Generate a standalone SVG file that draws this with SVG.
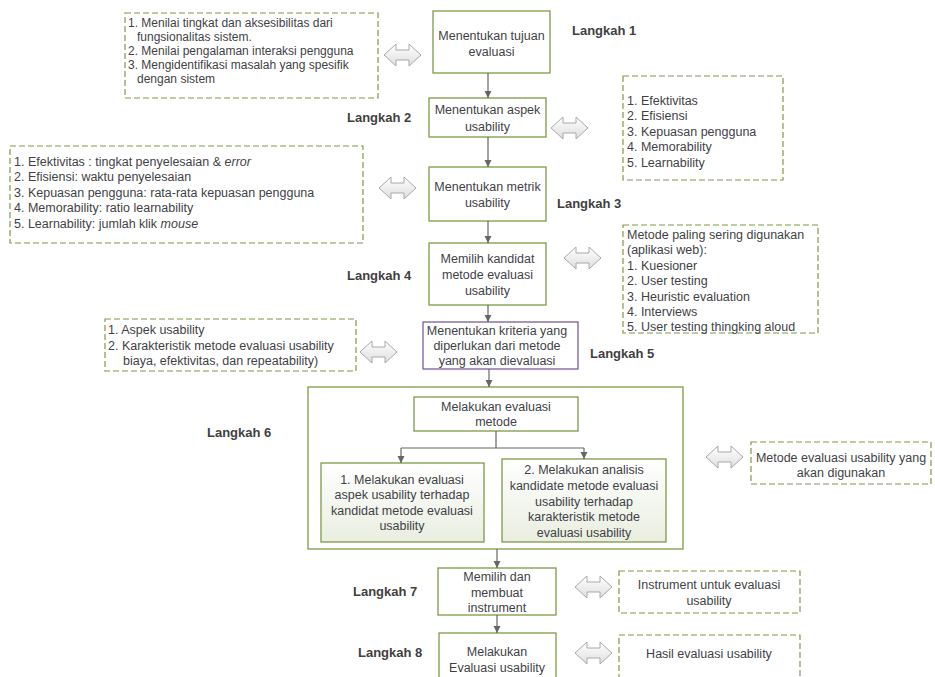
<svg xmlns="http://www.w3.org/2000/svg" width="935" height="677" viewBox="0 0 935 677">
<defs>
<style>
.box{fill:#ffffff;stroke:#7f9a48;stroke-width:1.3}
.pbox{fill:#ffffff;stroke:#7a5e9a;stroke-width:1.3}
.gbox{fill:url(#gg);stroke:#7f9a48;stroke-width:1.3}
.dbox{fill:#ffffff;stroke:#7f9a48;stroke-width:1.2;stroke-dasharray:6 3}
.t{font-family:"Liberation Sans",Arial,sans-serif;font-size:12.5px;fill:#3f3f46}
.c{text-anchor:middle}
.s{font-family:"Liberation Sans",Arial,sans-serif;font-size:12px;fill:#3f3f46}
.lk{font-family:"Liberation Sans",Arial,sans-serif;font-size:13px;font-weight:bold;fill:#3f3f3f}
.ln{fill:none;stroke:#666666;stroke-width:1.2}
.da{fill:url(#dg);stroke:#a8a8a8;stroke-width:1}
</style>
<linearGradient id="gg" x1="0" y1="0" x2="0" y2="1">
<stop offset="0" stop-color="#ffffff"/>
<stop offset="1" stop-color="#e9eee0"/>
</linearGradient>
<linearGradient id="dg" x1="0" y1="0" x2="0" y2="1">
<stop offset="0" stop-color="#ffffff"/>
<stop offset="1" stop-color="#dedede"/>
</linearGradient>
<marker id="ah" markerWidth="8" markerHeight="8" refX="7" refY="4" orient="auto" markerUnits="userSpaceOnUse">
<path d="M0,0.5 L7,4 L0,7.5 Z" fill="#666666"/>
</marker>
<path id="dar" class="da" d="M0,0 L12,-11 L12,-5 L25,-5 L25,-11 L37,0 L25,11 L25,5 L12,5 L12,11 Z"/>
</defs>

<g id="labels">
<text class="lk" x="572" y="35">Langkah 1</text>
<text class="lk" x="347" y="122">Langkah 2</text>
<text class="lk" x="557" y="208">Langkah 3</text>
<text class="lk" x="347" y="280">Langkah 4</text>
<text class="lk" x="590" y="358">Langkah 5</text>
<text class="lk" x="207" y="437">Langkah 6</text>
<text class="lk" x="353" y="596">Langkah 7</text>
<text class="lk" x="358" y="657">Langkah 8</text>
</g>

<g id="step1">
<rect class="box" x="433" y="11" width="117" height="62"/>
<text class="t c" x="491.5" y="39.5">Menentukan tujuan</text>
<text class="t c" x="491.5" y="55.5">evaluasi</text>
</g>
<g id="note1">
<rect class="dbox" x="125" y="13" width="253" height="85"/>
<text class="s" x="128" y="27">1. Menilai tingkat dan aksesibilitas dari</text>
<text class="s" x="137" y="41">fungsionalitas sistem.</text>
<text class="s" x="128" y="55">2. Menilai pengalaman interaksi pengguna</text>
<text class="s" x="128" y="69">3. Mengidentifikasi masalah yang spesifik</text>
<text class="s" x="137" y="83">dengan sistem</text>
</g>

<g id="step2">
<rect class="box" x="429" y="98" width="117" height="39"/>
<text class="t c" x="487.5" y="113.5">Menentukan aspek</text>
<text class="t c" x="487.5" y="130.5">usability</text>
</g>
<g id="note2">
<rect class="dbox" x="623" y="76" width="160" height="104"/>
<text class="t" x="627" y="104.5">1. Efektivitas</text>
<text class="t" x="627" y="120">2. Efisiensi</text>
<text class="t" x="627" y="135.5">3. Kepuasan pengguna</text>
<text class="t" x="627" y="151">4. Memorability</text>
<text class="t" x="627" y="166.5">5. Learnability</text>
</g>

<g id="step3">
<rect class="box" x="429" y="167" width="117" height="54"/>
<text class="t c" x="487.5" y="190.5">Menentukan metrik</text>
<text class="t c" x="487.5" y="206.5">usability</text>
</g>
<g id="note3">
<rect class="dbox" x="10" y="146" width="353" height="97"/>
<text class="t" x="14" y="165.5">1. Efektivitas : tingkat penyelesaian &amp; <tspan font-style="italic">error</tspan></text>
<text class="t" x="14" y="181">2. Efisiensi: waktu penyelesaian</text>
<text class="t" x="14" y="196.5">3. Kepuasan pengguna: rata-rata kepuasan pengguna</text>
<text class="t" x="14" y="212">4. Memorability: ratio learnability</text>
<text class="t" x="14" y="227.5">5. Learnability: jumlah klik <tspan font-style="italic">mouse</tspan></text>
</g>

<g id="step4">
<rect class="box" x="429" y="243" width="117" height="62"/>
<text class="t c" x="487.5" y="262.5">Memilih kandidat</text>
<text class="t c" x="487.5" y="278.5">metode evaluasi</text>
<text class="t c" x="487.5" y="294.5">usability</text>
</g>
<g id="note4">
<rect class="dbox" x="623" y="225" width="195" height="108"/>
<text class="t" x="627" y="238.5">Metode paling sering digunakan</text>
<text class="t" x="627" y="254">(aplikasi web):</text>
<text class="t" x="627" y="269.5">1. Kuesioner</text>
<text class="t" x="627" y="285">2. User testing</text>
<text class="t" x="627" y="300.5">3. Heuristic evaluation</text>
<text class="t" x="627" y="316">4. Interviews</text>
<text class="t" x="627" y="331">5. User testing thingking aloud</text>
</g>

<g id="step5">
<rect class="pbox" x="423" y="322" width="155" height="47"/>
<text class="t c" x="497" y="334.5">Menentukan kriteria yang</text>
<text class="t c" x="497" y="350">diperlukan  dari metode</text>
<text class="t c" x="497" y="365">yang akan dievaluasi</text>
</g>
<g id="note5">
<rect class="dbox" x="105" y="319" width="251" height="52"/>
<text class="t" x="108" y="334">1. Aspek usability</text>
<text class="t" x="108" y="349.5">2. Karakteristik metode evaluasi usability</text>
<text class="t" x="123" y="364.5">biaya, efektivitas, dan repeatability)</text>
</g>

<g id="step6">
<rect class="box" x="308" y="387" width="375" height="162"/>
<g id="step6a">
<rect class="box" x="414" y="397" width="164" height="34"/>
<text class="t c" x="496" y="410.5">Melakukan evaluasi</text>
<text class="t c" x="496" y="426">metode</text>
</g>
<g id="step6b">
<rect class="gbox" x="321" y="463" width="163" height="79"/>
<text class="t c" x="402" y="483.5">1. Melakukan evaluasi</text>
<text class="t c" x="402" y="499">aspek usability terhadap</text>
<text class="t c" x="402" y="514.5">kandidat metode evaluasi</text>
<text class="t c" x="402" y="530">usability</text>
</g>
<g id="step6c">
<rect class="gbox" x="502" y="459" width="164" height="83"/>
<text class="t c" x="584" y="473.5">2. Melakukan analisis</text>
<text class="t c" x="584" y="489.5">kandidate metode evaluasi</text>
<text class="t c" x="584" y="505.5">usability terhadap</text>
<text class="t c" x="584" y="521">karakteristik metode</text>
<text class="t c" x="584" y="537">evaluasi usability</text>
</g>
</g>
<g id="note6">
<rect class="dbox" x="751" y="442" width="180" height="42"/>
<text class="t c" x="841" y="461.5">Metode evaluasi usability yang</text>
<text class="t c" x="841" y="476.5">akan digunakan</text>
</g>

<g id="step7">
<rect class="box" x="438" y="568" width="118" height="47"/>
<text class="t c" x="497" y="580.5">Memilih dan</text>
<text class="t c" x="497" y="596.5">membuat</text>
<text class="t c" x="497" y="612">instrument</text>
</g>
<g id="note7">
<rect class="dbox" x="619" y="571" width="181" height="42"/>
<text class="t c" x="709" y="588.5">Instrument untuk evaluasi</text>
<text class="t c" x="709" y="604.5">usability</text>
</g>

<g id="step8">
<rect class="box" x="439" y="633" width="117" height="55"/>
<text class="t c" x="497" y="655.5">Melakukan</text>
<text class="t c" x="497" y="671.5">Evaluasi usability</text>
</g>
<g id="note8">
<rect class="dbox" x="619" y="635" width="181" height="53"/>
<text class="t c" x="709" y="657.5">Hasil evaluasi usability</text>
</g>

<g id="connectors">
<line class="ln" x1="488" y1="73" x2="488" y2="98" marker-end="url(#ah)"/>
<line class="ln" x1="488" y1="137" x2="488" y2="167" marker-end="url(#ah)"/>
<line class="ln" x1="488" y1="221" x2="488" y2="243" marker-end="url(#ah)"/>
<line class="ln" x1="488" y1="305" x2="488" y2="322" marker-end="url(#ah)"/>
<line class="ln" x1="489" y1="369" x2="489" y2="387" marker-end="url(#ah)"/>
<line class="ln" x1="496" y1="431" x2="496" y2="448"/>
<line class="ln" x1="401" y1="448" x2="584" y2="448"/>
<line class="ln" x1="401" y1="448" x2="401" y2="463" marker-end="url(#ah)"/>
<line class="ln" x1="584" y1="448" x2="584" y2="459" marker-end="url(#ah)"/>
<line class="ln" x1="497" y1="549" x2="497" y2="568" marker-end="url(#ah)"/>
<line class="ln" x1="497" y1="615" x2="497" y2="633" marker-end="url(#ah)"/>
<use href="#dar" x="384" y="55"/>
<use href="#dar" x="551" y="128"/>
<use href="#dar" x="379" y="188"/>
<use href="#dar" x="564" y="258"/>
<use href="#dar" x="360" y="352"/>
<use href="#dar" x="706" y="457"/>
<use href="#dar" x="575" y="587"/>
<use href="#dar" x="575" y="653"/>
</g>
</svg>
